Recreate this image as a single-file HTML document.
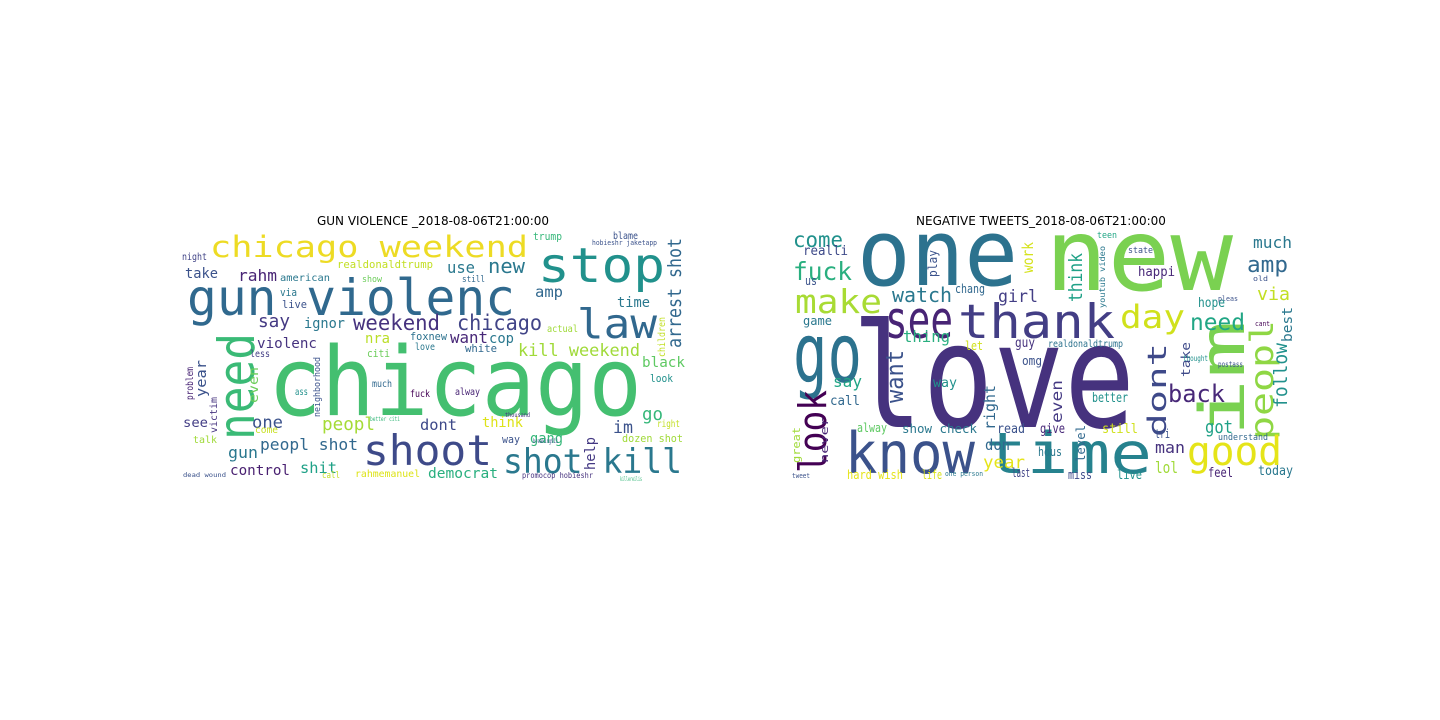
<!DOCTYPE html>
<html><head><meta charset="utf-8"><style>
html,body{margin:0;padding:0;background:#fff;}
svg{display:block;}
text{font-family:"DejaVu Sans Mono","Liberation Mono",monospace;}
.t{font-family:"DejaVu Sans","Liberation Sans",sans-serif;font-size:12px;fill:#000;}
</style></head><body>
<svg width="1440" height="720" viewBox="0 0 1440 720">
<rect width="1440" height="720" fill="#fff"/>

<text class="t" x="433" y="225" text-anchor="middle">GUN VIOLENCE _2018-08-06T21:00:00</text>
<text class="t" x="1041" y="225" text-anchor="middle">NEGATIVE TWEETS_2018-08-06T21:00:00</text>

<g lengthAdjust="spacingAndGlyphs">
<text x="268" y="415" font-size="95" textLength="374" lengthAdjust="spacingAndGlyphs" fill="#44bf70">chicago</text>
<text x="187" y="315" font-size="50" textLength="328" lengthAdjust="spacingAndGlyphs" fill="#30698e">gun violenc</text>
<text x="210" y="257" font-size="29" textLength="318" lengthAdjust="spacingAndGlyphs" fill="#eddb24">chicago weekend</text>
<text x="538" y="282" font-size="48" textLength="127" lengthAdjust="spacingAndGlyphs" fill="#21918c">stop</text>
<text x="577" y="338" font-size="41" textLength="80" lengthAdjust="spacingAndGlyphs" fill="#31688e">law</text>
<text x="363" y="465" font-size="42" textLength="129" lengthAdjust="spacingAndGlyphs" fill="#3e4a89">shoot</text>
<text x="503" y="473" font-size="34" textLength="179" lengthAdjust="spacingAndGlyphs" fill="#2a788e">shot kill</text>
<text transform="translate(254,440) rotate(-90)" font-size="50" textLength="107" lengthAdjust="spacingAndGlyphs" fill="#3aba76">need</text>
<text x="353" y="330" font-size="21" textLength="87" lengthAdjust="spacingAndGlyphs" fill="#46327e">weekend</text>
<text x="457" y="330" font-size="21" textLength="85" lengthAdjust="spacingAndGlyphs" fill="#414487">chicago</text>
<text x="518" y="356" font-size="17" textLength="122" lengthAdjust="spacingAndGlyphs" fill="#a0da39">kill weekend</text>
<text x="488" y="273" font-size="20" textLength="37" lengthAdjust="spacingAndGlyphs" fill="#2a788e">new</text>
<text x="447" y="273" font-size="16" textLength="28" lengthAdjust="spacingAndGlyphs" fill="#2a788e">use</text>
<text x="238" y="281" font-size="16" textLength="39" lengthAdjust="spacingAndGlyphs" fill="#482475">rahm</text>
<text x="185" y="278" font-size="14" textLength="33" lengthAdjust="spacingAndGlyphs" fill="#3b528b">take</text>
<text x="535" y="297" font-size="15" textLength="28" lengthAdjust="spacingAndGlyphs" fill="#31688e">amp</text>
<text x="258" y="327" font-size="18" textLength="32" lengthAdjust="spacingAndGlyphs" fill="#443983">say</text>
<text x="304" y="328" font-size="14" textLength="41" lengthAdjust="spacingAndGlyphs" fill="#2a788e">ignor</text>
<text x="450" y="343" font-size="16" textLength="38" lengthAdjust="spacingAndGlyphs" fill="#482878">want</text>
<text x="489" y="343" font-size="14" textLength="25" lengthAdjust="spacingAndGlyphs" fill="#2a788e">cop</text>
<text x="365" y="343" font-size="14" textLength="25" lengthAdjust="spacingAndGlyphs" fill="#bade28">nra</text>
<text x="257" y="348" font-size="14" textLength="60" lengthAdjust="spacingAndGlyphs" fill="#46337f">violenc</text>
<text transform="translate(681,348) rotate(-90)" font-size="19" textLength="110" lengthAdjust="spacingAndGlyphs" fill="#31688e">arrest shot</text>
<text x="642" y="367" font-size="14" textLength="43" lengthAdjust="spacingAndGlyphs" fill="#5ec962">black</text>
<text x="252" y="428" font-size="17" textLength="31" lengthAdjust="spacingAndGlyphs" fill="#3b528b">one</text>
<text x="322" y="430" font-size="18" textLength="53" lengthAdjust="spacingAndGlyphs" fill="#a5db36">peopl</text>
<text x="420" y="430" font-size="15" textLength="37" lengthAdjust="spacingAndGlyphs" fill="#3e4989">dont</text>
<text x="482" y="427" font-size="14" textLength="41" lengthAdjust="spacingAndGlyphs" fill="#dde318">think</text>
<text x="642" y="420" font-size="18" textLength="21" lengthAdjust="spacingAndGlyphs" fill="#35b779">go</text>
<text x="613" y="433" font-size="17" textLength="20" lengthAdjust="spacingAndGlyphs" fill="#3b528b">im</text>
<text x="228" y="458" font-size="16" textLength="30" lengthAdjust="spacingAndGlyphs" fill="#2a788e">gun</text>
<text x="260" y="450" font-size="16" textLength="98" lengthAdjust="spacingAndGlyphs" fill="#31688e">peopl shot</text>
<text x="530" y="443" font-size="14" textLength="33" lengthAdjust="spacingAndGlyphs" fill="#35b779">gang</text>
<text transform="translate(595,470) rotate(-90)" font-size="14" textLength="33" lengthAdjust="spacingAndGlyphs" fill="#443983">help</text>
<text x="230" y="475" font-size="14" textLength="60" lengthAdjust="spacingAndGlyphs" fill="#481f70">control</text>
<text x="300" y="473" font-size="15" textLength="37" lengthAdjust="spacingAndGlyphs" fill="#1fa187">shit</text>
<text x="428" y="478" font-size="14" textLength="70" lengthAdjust="spacingAndGlyphs" fill="#29af7f">democrat</text>
<text transform="translate(206,397) rotate(-90)" font-size="14" textLength="37" lengthAdjust="spacingAndGlyphs" fill="#3b528b">year</text>
<text transform="translate(258,403) rotate(-90)" font-size="13" textLength="36" lengthAdjust="spacingAndGlyphs" fill="#6ccd5a">even</text>
<text x="183" y="427" font-size="13" textLength="25" lengthAdjust="spacingAndGlyphs" fill="#433e85">see</text>
<text x="337" y="268" font-size="11" textLength="96" lengthAdjust="spacingAndGlyphs" fill="#c2df23">realdonaldtrump</text>
<text x="280" y="281" font-size="10" textLength="50" lengthAdjust="spacingAndGlyphs" fill="#2a788e">american</text>
<text x="533" y="240" font-size="11" textLength="29" lengthAdjust="spacingAndGlyphs" fill="#35b779">trump</text>
<text x="613" y="239" font-size="10" textLength="25" lengthAdjust="spacingAndGlyphs" fill="#3b528b">blame</text>
<text x="182" y="260" font-size="10" textLength="25" lengthAdjust="spacingAndGlyphs" fill="#414487">night</text>
<text x="617" y="307" font-size="14" textLength="33" lengthAdjust="spacingAndGlyphs" fill="#2a788e">time</text>
<text transform="translate(665,357) rotate(-90)" font-size="10" textLength="40" lengthAdjust="spacingAndGlyphs" fill="#c2df23">children</text>
<text x="410" y="340" font-size="11" textLength="37" lengthAdjust="spacingAndGlyphs" fill="#2c728e">foxnew</text>
<text x="465" y="352" font-size="11" textLength="32" lengthAdjust="spacingAndGlyphs" fill="#31688e">white</text>
<text x="415" y="350" font-size="10" textLength="20" lengthAdjust="spacingAndGlyphs" fill="#2a788e">love</text>
<text x="367" y="357" font-size="11" textLength="23" lengthAdjust="spacingAndGlyphs" fill="#6ccd5a">citi</text>
<text x="250" y="357" font-size="10" textLength="20" lengthAdjust="spacingAndGlyphs" fill="#433e85">less</text>
<text x="282" y="308" font-size="11" textLength="25" lengthAdjust="spacingAndGlyphs" fill="#3b528b">live</text>
<text x="280" y="296" font-size="11" textLength="17" lengthAdjust="spacingAndGlyphs" fill="#2a788e">via</text>
<text x="650" y="382" font-size="11" textLength="23" lengthAdjust="spacingAndGlyphs" fill="#21918c">look</text>
<text x="657" y="427" font-size="10" textLength="23" lengthAdjust="spacingAndGlyphs" fill="#c2df23">right</text>
<text x="622" y="442" font-size="11" textLength="61" lengthAdjust="spacingAndGlyphs" fill="#a0da39">dozen shot</text>
<text x="502" y="443" font-size="11" textLength="18" lengthAdjust="spacingAndGlyphs" fill="#3b528b">way</text>
<text x="355" y="477" font-size="10" textLength="65" lengthAdjust="spacingAndGlyphs" fill="#dde318">rahmemanuel</text>
<text x="522" y="478" font-size="8" textLength="71" lengthAdjust="spacingAndGlyphs" fill="#46327e">promocop hobieshr</text>
<text transform="translate(320,417) rotate(-90)" font-size="9" textLength="60" lengthAdjust="spacingAndGlyphs" fill="#3b528b">neighborhood</text>
<text transform="translate(193,400) rotate(-90)" font-size="10" textLength="33" lengthAdjust="spacingAndGlyphs" fill="#482475">problem</text>
<text transform="translate(217,433) rotate(-90)" font-size="10" textLength="36" lengthAdjust="spacingAndGlyphs" fill="#46337f">victim</text>
<text x="372" y="387" font-size="10" textLength="20" lengthAdjust="spacingAndGlyphs" fill="#31688e">much</text>
<text x="410" y="397" font-size="10" textLength="20" lengthAdjust="spacingAndGlyphs" fill="#440154">fuck</text>
<text x="295" y="395" font-size="10" textLength="13" lengthAdjust="spacingAndGlyphs" fill="#21918c">ass</text>
<text x="455" y="395" font-size="10" textLength="25" lengthAdjust="spacingAndGlyphs" fill="#482475">alway</text>
<text x="193" y="443" font-size="10" textLength="24" lengthAdjust="spacingAndGlyphs" fill="#a0da39">talk</text>
<text x="255" y="433" font-size="10" textLength="23" lengthAdjust="spacingAndGlyphs" fill="#c8e020">come</text>
<text x="462" y="282" font-size="9" textLength="23" lengthAdjust="spacingAndGlyphs" fill="#31688e">still</text>
<text x="362" y="282" font-size="9" textLength="20" lengthAdjust="spacingAndGlyphs" fill="#6ccd5a">show</text>
<text x="547" y="332" font-size="10" textLength="31" lengthAdjust="spacingAndGlyphs" fill="#a0da39">actual</text>
<text x="322" y="478" font-size="9" textLength="18" lengthAdjust="spacingAndGlyphs" fill="#c2df23">call</text>
<text x="592" y="245" font-size="7" textLength="65" lengthAdjust="spacingAndGlyphs" fill="#3b528b">hobieshr jaketapp</text>
<text x="183" y="477" font-size="6" textLength="43" lengthAdjust="spacingAndGlyphs" fill="#3b528b">dead wound</text>
<text x="370" y="421" font-size="6" textLength="30" lengthAdjust="spacingAndGlyphs" fill="#35b779">better citi</text>
<text x="505" y="417" font-size="6" textLength="25" lengthAdjust="spacingAndGlyphs" fill="#46327e">thousand</text>
<text x="533" y="443" font-size="6" textLength="25" lengthAdjust="spacingAndGlyphs" fill="#3b528b">breaking911</text>
<text x="620" y="481" font-size="6" textLength="22" lengthAdjust="spacingAndGlyphs" fill="#35b779">killereilis</text>
</g>

<g>
<text x="852" y="427" font-size="145" textLength="283" lengthAdjust="spacingAndGlyphs" fill="#46327e">love</text>
<text x="857" y="285" font-size="92" textLength="161" lengthAdjust="spacingAndGlyphs" fill="#2c728e">one</text>
<text x="1045" y="290" font-size="100" textLength="188" lengthAdjust="spacingAndGlyphs" fill="#7ad151">new</text>
<text x="958" y="338" font-size="47" textLength="157" lengthAdjust="spacingAndGlyphs" fill="#433e85">thank</text>
<text x="885" y="338" font-size="52" textLength="68" lengthAdjust="spacingAndGlyphs" fill="#482475">see</text>
<text x="793" y="382" font-size="82" textLength="69" lengthAdjust="spacingAndGlyphs" fill="#2c728e">go</text>
<text x="845" y="473" font-size="57" textLength="130" lengthAdjust="spacingAndGlyphs" fill="#3b528b">know</text>
<text x="985" y="473" font-size="57" textLength="167" lengthAdjust="spacingAndGlyphs" fill="#26828e">time</text>
<text transform="translate(1244,437) rotate(-90)" font-size="62" textLength="117" lengthAdjust="spacingAndGlyphs" fill="#7ad151">im</text>
<text transform="translate(1273,440) rotate(-90)" font-size="32" textLength="120" lengthAdjust="spacingAndGlyphs" fill="#8fd744">peopl</text>
<text x="1120" y="328" font-size="32" textLength="65" lengthAdjust="spacingAndGlyphs" fill="#d0e11c">day</text>
<text x="1187" y="465" font-size="40" textLength="95" lengthAdjust="spacingAndGlyphs" fill="#e5e419">good</text>
<text transform="translate(1166,437) rotate(-90)" font-size="26" textLength="94" lengthAdjust="spacingAndGlyphs" fill="#3e4989">dont</text>
<text x="1168" y="402" font-size="24" textLength="57" lengthAdjust="spacingAndGlyphs" fill="#482878">back</text>
<text transform="translate(826,473) rotate(-90)" font-size="38" textLength="83" lengthAdjust="spacingAndGlyphs" fill="#440154">look</text>
<text x="795" y="313" font-size="33" textLength="87" lengthAdjust="spacingAndGlyphs" fill="#a8db34">make</text>
<text x="793" y="280" font-size="25" textLength="59" lengthAdjust="spacingAndGlyphs" fill="#29af7f">fuck</text>
<text x="793" y="247" font-size="21" textLength="50" lengthAdjust="spacingAndGlyphs" fill="#21918c">come</text>
<text x="892" y="302" font-size="20" textLength="60" lengthAdjust="spacingAndGlyphs" fill="#2a788e">watch</text>
<text transform="translate(903,403) rotate(-90)" font-size="24" textLength="53" lengthAdjust="spacingAndGlyphs" fill="#3b528b">want</text>
<text x="1190" y="330" font-size="23" textLength="55" lengthAdjust="spacingAndGlyphs" fill="#21a685">need</text>
<text x="1247" y="272" font-size="22" textLength="41" lengthAdjust="spacingAndGlyphs" fill="#31688e">amp</text>
<text x="1253" y="248" font-size="16" textLength="39" lengthAdjust="spacingAndGlyphs" fill="#2a788e">much</text>
<text x="1257" y="300" font-size="18" textLength="33" lengthAdjust="spacingAndGlyphs" fill="#c2df23">via</text>
<text transform="translate(1292,342) rotate(-90)" font-size="14" textLength="35" lengthAdjust="spacingAndGlyphs" fill="#2a788e">best</text>
<text transform="translate(1287,408) rotate(-90)" font-size="19" textLength="65" lengthAdjust="spacingAndGlyphs" fill="#21918c">follow</text>
<text x="1198" y="307" font-size="13" textLength="27" lengthAdjust="spacingAndGlyphs" fill="#21918c">hope</text>
<text x="1138" y="276" font-size="13" textLength="37" lengthAdjust="spacingAndGlyphs" fill="#482878">happi</text>
<text x="998" y="302" font-size="17" textLength="40" lengthAdjust="spacingAndGlyphs" fill="#433e85">girl</text>
<text x="955" y="293" font-size="12" textLength="30" lengthAdjust="spacingAndGlyphs" fill="#31688e">chang</text>
<text transform="translate(1082,302) rotate(-90)" font-size="19" textLength="49" lengthAdjust="spacingAndGlyphs" fill="#1fa187">think</text>
<text transform="translate(1033,273) rotate(-90)" font-size="15" textLength="31" lengthAdjust="spacingAndGlyphs" fill="#d5e21a">work</text>
<text x="803" y="255" font-size="13" textLength="45" lengthAdjust="spacingAndGlyphs" fill="#3e4a89">realli</text>
<text transform="translate(937,277) rotate(-90)" font-size="12" textLength="27" lengthAdjust="spacingAndGlyphs" fill="#3b528b">play</text>
<text x="805" y="285" font-size="12" textLength="12" lengthAdjust="spacingAndGlyphs" fill="#3b528b">us</text>
<text x="903" y="342" font-size="16" textLength="47" lengthAdjust="spacingAndGlyphs" fill="#29af7f">thing</text>
<text x="803" y="325" font-size="12" textLength="29" lengthAdjust="spacingAndGlyphs" fill="#2a788e">game</text>
<text x="833" y="387" font-size="16" textLength="29" lengthAdjust="spacingAndGlyphs" fill="#21a685">say</text>
<text x="830" y="405" font-size="13" textLength="30" lengthAdjust="spacingAndGlyphs" fill="#31688e">call</text>
<text transform="translate(828,463) rotate(-90)" font-size="11" textLength="46" lengthAdjust="spacingAndGlyphs" fill="#482475">never</text>
<text transform="translate(800,463) rotate(-90)" font-size="11" textLength="36" lengthAdjust="spacingAndGlyphs" fill="#a0da39">great</text>
<text x="857" y="432" font-size="12" textLength="30" lengthAdjust="spacingAndGlyphs" fill="#5ec962">alway</text>
<text x="902" y="433" font-size="12" textLength="75" lengthAdjust="spacingAndGlyphs" fill="#2a788e">show check</text>
<text x="847" y="479" font-size="12" textLength="56" lengthAdjust="spacingAndGlyphs" fill="#e5e419">hard wish</text>
<text x="922" y="479" font-size="12" textLength="20" lengthAdjust="spacingAndGlyphs" fill="#d8e219">life</text>
<text x="983" y="468" font-size="17" textLength="42" lengthAdjust="spacingAndGlyphs" fill="#e5e419">year</text>
<text x="985" y="450" font-size="15" textLength="25" lengthAdjust="spacingAndGlyphs" fill="#31688e">don</text>
<text x="1012" y="477" font-size="12" textLength="18" lengthAdjust="spacingAndGlyphs" fill="#414487">last</text>
<text x="1038" y="456" font-size="12" textLength="24" lengthAdjust="spacingAndGlyphs" fill="#2a788e">hous</text>
<text transform="translate(995,430) rotate(-90)" font-size="15" textLength="45" lengthAdjust="spacingAndGlyphs" fill="#31688e">right</text>
<text transform="translate(1062,423) rotate(-90)" font-size="15" textLength="43" lengthAdjust="spacingAndGlyphs" fill="#443983">even</text>
<text x="1022" y="365" font-size="12" textLength="20" lengthAdjust="spacingAndGlyphs" fill="#3b528b">omg</text>
<text x="1015" y="347" font-size="13" textLength="20" lengthAdjust="spacingAndGlyphs" fill="#46327e">guy</text>
<text x="965" y="350" font-size="12" textLength="18" lengthAdjust="spacingAndGlyphs" fill="#d0e11c">let</text>
<text x="933" y="387" font-size="13" textLength="24" lengthAdjust="spacingAndGlyphs" fill="#21918c">way</text>
<text x="1092" y="402" font-size="13" textLength="36" lengthAdjust="spacingAndGlyphs" fill="#21918c">better</text>
<text x="1048" y="347" font-size="10" textLength="75" lengthAdjust="spacingAndGlyphs" fill="#2c728e">realdonaldtrump</text>
<text x="997" y="433" font-size="13" textLength="28" lengthAdjust="spacingAndGlyphs" fill="#3b528b">read</text>
<text x="1040" y="433" font-size="13" textLength="25" lengthAdjust="spacingAndGlyphs" fill="#482878">give</text>
<text transform="translate(1085,462) rotate(-90)" font-size="12" textLength="37" lengthAdjust="spacingAndGlyphs" fill="#31688e">level</text>
<text x="1068" y="479" font-size="12" textLength="24" lengthAdjust="spacingAndGlyphs" fill="#3e4a89">miss</text>
<text x="1117" y="479" font-size="12" textLength="25" lengthAdjust="spacingAndGlyphs" fill="#21918c">live</text>
<text x="1155" y="453" font-size="16" textLength="30" lengthAdjust="spacingAndGlyphs" fill="#46327e">man</text>
<text x="1155" y="473" font-size="16" textLength="23" lengthAdjust="spacingAndGlyphs" fill="#a0da39">lol</text>
<text x="1155" y="438" font-size="12" textLength="15" lengthAdjust="spacingAndGlyphs" fill="#3b528b">tri</text>
<text x="1205" y="433" font-size="18" textLength="28" lengthAdjust="spacingAndGlyphs" fill="#1fa187">got</text>
<text transform="translate(1190,377) rotate(-90)" font-size="12" textLength="35" lengthAdjust="spacingAndGlyphs" fill="#3e4a89">take</text>
<text x="1208" y="477" font-size="13" textLength="25" lengthAdjust="spacingAndGlyphs" fill="#482475">feel</text>
<text x="1258" y="475" font-size="13" textLength="35" lengthAdjust="spacingAndGlyphs" fill="#2a788e">today</text>
<text x="1218" y="440" font-size="9" textLength="50" lengthAdjust="spacingAndGlyphs" fill="#31688e">understand</text>
<text x="1102" y="433" font-size="13" textLength="36" lengthAdjust="spacingAndGlyphs" fill="#d0e11c">still</text>
<text transform="translate(1105,308) rotate(-90)" font-size="8" textLength="62" lengthAdjust="spacingAndGlyphs" fill="#2a788e">youtub video</text>
<text x="1128" y="253" font-size="9" textLength="25" lengthAdjust="spacingAndGlyphs" fill="#3b528b">state</text>
<text x="1097" y="238" font-size="9" textLength="20" lengthAdjust="spacingAndGlyphs" fill="#21a685">teen</text>
<text x="1218" y="367" font-size="8" textLength="25" lengthAdjust="spacingAndGlyphs" fill="#3b528b">postass</text>
<text x="1226" y="360" font-size="8" textLength="0" fill="#fff"></text>
<text x="1183" y="361" font-size="8" textLength="25" lengthAdjust="spacingAndGlyphs" fill="#21918c">thought</text>
<text x="1208" y="308" font-size="8" textLength="0" fill="#fff"></text>
<text x="1010" y="476" font-size="8" textLength="0" fill="#fff"></text>
<text x="945" y="476" font-size="7" textLength="38" lengthAdjust="spacingAndGlyphs" fill="#2a788e">one person</text>
<text x="792" y="478" font-size="7" textLength="18" lengthAdjust="spacingAndGlyphs" fill="#3b528b">tweet</text>
<text x="1253" y="281" font-size="7" textLength="15" lengthAdjust="spacingAndGlyphs" fill="#3b528b">old</text>
<text x="1255" y="326" font-size="7" textLength="15" lengthAdjust="spacingAndGlyphs" fill="#440154">cant</text>
<text x="1218" y="301" font-size="7" textLength="20" lengthAdjust="spacingAndGlyphs" fill="#3b528b">pleas</text>
</g>
</svg>
</body></html>
